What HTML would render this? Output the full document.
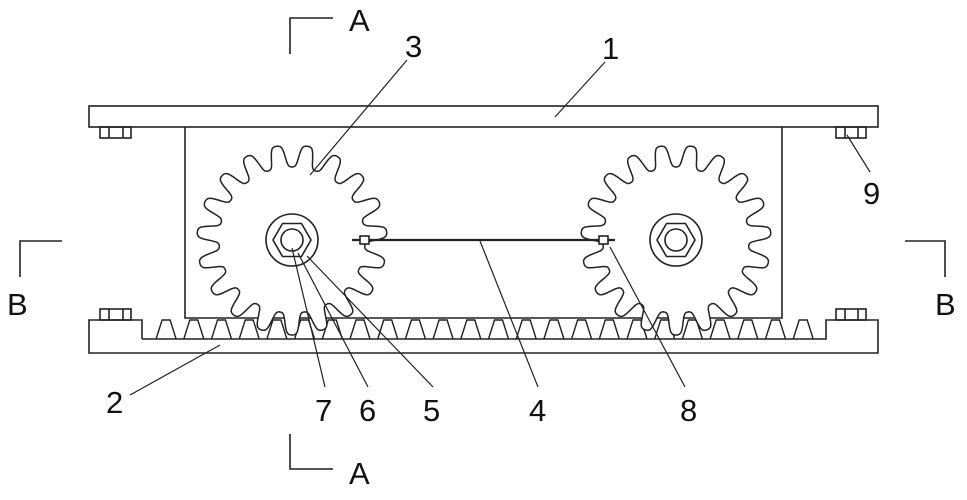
<!DOCTYPE html>
<html><head><meta charset="utf-8"><style>
html,body{margin:0;padding:0;background:#fff;}
svg{display:block;}
text{font-family:"Liberation Sans",sans-serif;font-size:31px;fill:#111;}
</style></head><body>
<svg id="s" width="967" height="500" viewBox="0 0 967 500" xmlns="http://www.w3.org/2000/svg">
<g fill="none" stroke="#222" stroke-width="1.6">
<polyline points="333,18 290,18 290,54"/>
<polyline points="62,241 20,241 20,277"/>
<polyline points="905,241 945,241 945,277"/>
<polyline points="290,434 290,469 333,469"/>
<rect x="89" y="106" width="789" height="21"/>
<rect x="100" y="127" width="31" height="11"/><line x1="109" y1="127" x2="109" y2="138"/><line x1="123" y1="127" x2="123" y2="138"/>
<rect x="836" y="127" width="30" height="11"/><line x1="845" y1="127" x2="845" y2="138"/><line x1="858" y1="127" x2="858" y2="138"/>
<polyline points="185,127 185,318 782,318 782,127"/>
<polyline points="142,339 142,320 89,320 89,353 878,353 878,320 826,320 826,339 142,339"/>
<rect x="100" y="309" width="31" height="11"/><line x1="109" y1="309" x2="109" y2="320"/><line x1="123" y1="309" x2="123" y2="320"/>
<rect x="836" y="309" width="30" height="11"/><line x1="845" y1="309" x2="845" y2="320"/><line x1="858" y1="309" x2="858" y2="320"/>
<path id="rack" stroke-width="1.4"/>
<path id="g1" stroke-width="1.5" fill="#fff"/>
<path id="g2" stroke-width="1.5" fill="#fff"/>
<circle cx="292" cy="240" r="26"/><polygon id="h1"/><circle cx="292" cy="240" r="11"/>
<circle cx="676" cy="240" r="26"/><polygon id="h2"/><circle cx="676" cy="240" r="11"/>
<line x1="352" y1="240" x2="615" y2="240" stroke-width="2.2"/>
<rect x="360" y="236" width="9" height="8" fill="#fff"/>
<rect x="599" y="236" width="9" height="8" fill="#fff"/>
<g stroke-width="1.2">
<line x1="407" y1="60" x2="310" y2="175"/>
<line x1="605" y1="62" x2="555" y2="117"/>
<line x1="870" y1="172" x2="847" y2="135"/>
<line x1="130" y1="395" x2="220" y2="345"/>
<line x1="325" y1="387" x2="292" y2="248"/>
<line x1="368" y1="387" x2="298" y2="253"/>
<line x1="433" y1="387" x2="307" y2="256"/>
<line x1="538" y1="387" x2="480" y2="241"/>
<line x1="685" y1="387" x2="610" y2="247"/>
</g>
</g>
<text x="349" y="31">A</text>
<text x="405" y="57">3</text>
<text x="602" y="59">1</text>
<text x="863" y="204">9</text>
<text x="7" y="315">B</text>
<text x="935" y="315">B</text>
<text x="106" y="413">2</text>
<text x="315" y="421">7</text>
<text x="359" y="421">6</text>
<text x="423" y="421">5</text>
<text x="529" y="421">4</text>
<text x="680" y="421">8</text>
<text x="349" y="484">A</text>
</svg>
<script>
function gear(cx,cy,ph){var d="",N=19,n=760;for(var i=0;i<=n;i++){var t=i/n*2*Math.PI;var c=Math.cos(N*t+ph);var r=84+11*Math.tanh(1.8*c)/Math.tanh(1.8);var x=cx+r*Math.cos(t),y=cy+r*Math.sin(t);d+=(i?"L":"M")+x.toFixed(1)+","+y.toFixed(1);}return d+"Z";}
document.getElementById("g1").setAttribute("d",gear(292,240,-19*Math.PI/2));
document.getElementById("g2").setAttribute("d",gear(676,240,-19*Math.PI/2));
function hex(cx,cy,r){var p=[];for(var k=0;k<6;k++){var a=k*Math.PI/3;p.push((cx+r*Math.cos(a)).toFixed(1)+","+(cy+r*Math.sin(a)).toFixed(1));}return p.join(" ");}
document.getElementById("h1").setAttribute("points",hex(292,240,19));
document.getElementById("h2").setAttribute("points",hex(676,240,19));
var d="",pitch=27.7;for(var c=360-pitch*7;c<826;c+=pitch){if(c-10<142)continue;if(c+10>826)break;d+="M"+(c-10).toFixed(1)+",339L"+(c-4).toFixed(1)+",320L"+(c+4).toFixed(1)+",320L"+(c+10).toFixed(1)+",339";}
document.getElementById("rack").setAttribute("d",d);
</script>
</body></html>
